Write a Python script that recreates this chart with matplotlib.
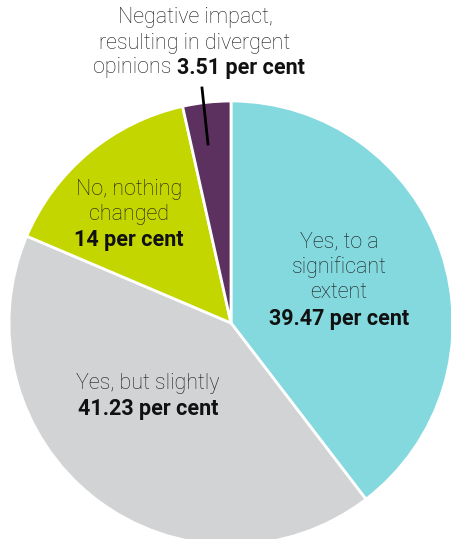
import matplotlib
matplotlib.use('Agg')
import matplotlib.pyplot as plt

# slice shares as drawn in the chart (yellow slice is drawn larger than its "14" label)
values = [39.6, 41.8, 15.1, 3.5]
colors = ['#84D9DF', '#D1D3D4', '#C4D600', '#5C3160']
name_lines = [['Yes, to a', 'significant', 'extent'],
              ['Yes, but slightly'],
              ['No, nothing', 'changed'],
              ['Negative impact,', 'resulting in divergent', 'opinions']]
value_labels = ['39.47 per cent', '41.23 per cent', '14 per cent', '3.51 per cent']

W, H = 451, 539
fig = plt.figure(figsize=(W / 100, H / 100), dpi=100)
ax = fig.add_axes([0, 0, 1, 1])

cx, cy, r = 231, H - 323, 222
ax.pie(values, colors=colors, startangle=90, counterclock=False,
       center=(cx, cy), radius=r, frame=True,
       wedgeprops=dict(edgecolor='white', linewidth=2))
ax.set_xlim(0, W)
ax.set_ylim(0, H)
ax.set_aspect('equal')
ax.axis('off')

fs = 15.5
reg = dict(family='Roboto', fontweight='light', fontsize=fs, color='#1a1a1a', va='center')
bold = dict(family='Roboto', fontweight='bold', fontsize=fs, color='#111111', va='center')

def y(py):
    return H - py

def block(x, y0, lines, value, step=25.5):
    for i, line in enumerate(lines):
        ax.text(x, y(y0 + i * step), line, ha='center', **reg)
    ax.text(x, y(y0 + len(lines) * step), value, ha='center', **bold)

block(339, 242, name_lines[0], value_labels[0])
block(148, 384, name_lines[1], value_labels[1])
block(129, 189, name_lines[2], value_labels[2])

# Negative impact label: mixed weights on the last line
ax.text(195, y(18), name_lines[3][0], ha='center', **reg)
ax.text(195, y(43), name_lines[3][1], ha='center', **reg)
ax.text(172, y(68), name_lines[3][2], ha='right', **reg)
ax.text(177, y(68), value_labels[3], ha='left', **bold)
ax.plot([202, 208], [y(88), y(144)], color='black', linewidth=2)

fig.savefig('out.png', dpi=100)
